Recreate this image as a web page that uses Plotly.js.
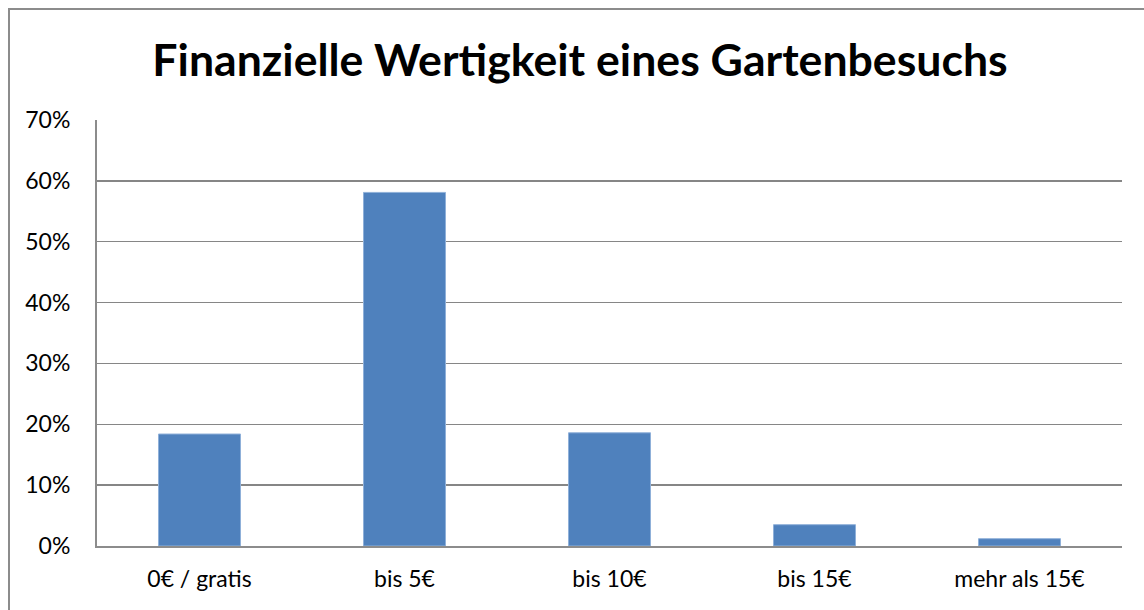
<!DOCTYPE html>
<html>
<head>
<meta charset="utf-8">
<script src="https://cdn.plot.ly/plotly-3.0.1.min.js"></script>
<style>
  html, body { margin: 0; padding: 0; background: #fff; }
  #wrap { position: relative; width: 1144px; height: 610px; overflow: hidden; }
  #frame { position: absolute; left: 8px; top: 8px; width: 1200px; height: 700px;
           border-left: 2px solid #8c8c8c; border-top: 2px solid #8c8c8c; box-sizing: border-box; }
  #chart { position: absolute; left: 0; top: 0; width: 1144px; height: 610px; }
</style>
</head>
<body>
<div id="wrap">
  <div id="frame"></div>
  <div id="chart"></div>
</div>
<script>
const categories = ["0€ / gratis", "bis 5€", "bis 10€", "bis 15€", "mehr als 15€"];
const shares = [0.184, 0.581, 0.186, 0.035, 0.012];
const yTickValues = [0, 0.1, 0.2, 0.3, 0.4, 0.5, 0.6, 0.7];
const yTickLabels = ["0%", "10%", "20%", "30%", "40%", "50%", "60%", "70%"];

const data = [{
  type: "bar",
  x: categories,
  y: shares,
  marker: { color: "#4F81BD", line: { color: "#8fb0d9", width: 1 } },
  hoverinfo: "x+y"
}];

const layout = {
  width: 1144,
  height: 610,
  paper_bgcolor: "rgba(0,0,0,0)",
  plot_bgcolor: "rgba(0,0,0,0)",
  margin: { l: 97, r: 22, t: 120, b: 64, pad: 0 },
  bargap: 0.6,
  showlegend: false,
  title: {
    text: "<b>Finanzielle Wertigkeit eines Gartenbesuchs</b>",
    font: { family: "Lato, 'Open Sans', sans-serif", size: 44.6, color: "#000" },
    x: 0.507, xanchor: "center", xref: "container",
    y: 1 - 60 / 610, yanchor: "middle", yref: "container"
  },
  font: { family: "Lato, 'Open Sans', sans-serif", size: 23, color: "#000" },
  xaxis: {
    type: "category",
    showgrid: false,
    showline: true,
    linecolor: "#8c8c8c",
    linewidth: 2,
    ticks: "",
    ticklabelstandoff: 11,
    tickfont: { size: 23, color: "#000" },
    fixedrange: true
  },
  yaxis: {
    range: [0, 0.7],
    tickvals: yTickValues,
    ticktext: yTickLabels,
    showgrid: true,
    gridcolor: "#868686",
    gridwidth: 1.5,
    zeroline: false,
    showline: true,
    linecolor: "#8c8c8c",
    linewidth: 2,
    ticks: "",
    ticklabelstandoff: 20,
    tickfont: { size: 23, color: "#000" },
    fixedrange: true
  }
};

Plotly.newPlot("chart", data, layout, { displayModeBar: false, staticPlot: true });
</script>
</body>
</html>
